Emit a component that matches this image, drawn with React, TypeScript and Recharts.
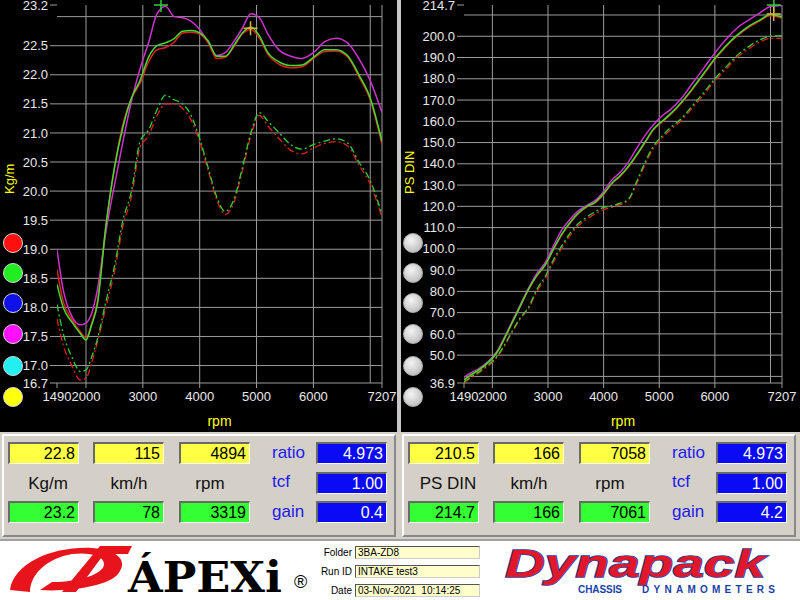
import React from 'react';
import { LineChart, Line, XAxis, YAxis, ReferenceLine, ReferenceDot } from 'recharts';

// ---------- data ----------
const RPM = [1490, 1600, 1750, 1900, 2000, 2100, 2200, 2350, 2500, 2650, 2800, 2950, 3100, 3250, 3400, 3550, 3700, 3850, 4000, 4150, 4300, 4450, 4600, 4750, 4900, 5050, 5200, 5400, 5600, 5800, 6000, 6200, 6400, 6600, 6800, 7000, 7207];

// Torque (Kg/m)
const TQ_MAGENTA = [19.0, 18.3, 17.85, 17.7, 17.73, 17.9, 18.3, 19.3, 20.1, 20.85, 21.55, 22.1, 22.55, 23.05, 23.18, 23.0, 22.98, 22.92, 22.78, 22.55, 22.33, 22.38, 22.57, 22.8, 23.05, 22.98, 22.7, 22.42, 22.32, 22.28, 22.38, 22.57, 22.63, 22.55, 22.28, 21.9, 21.35];
const TQ_GREEN = [18.4, 18.0, 17.75, 17.55, 17.44, 17.7, 18.05, 19.4, 20.4, 21.1, 21.6, 21.9, 22.3, 22.5, 22.55, 22.62, 22.75, 22.76, 22.72, 22.58, 22.32, 22.32, 22.5, 22.72, 22.82, 22.67, 22.38, 22.22, 22.16, 22.17, 22.3, 22.43, 22.43, 22.33, 22.0, 21.6, 20.85];
const TQ_RED = [18.65, 18.1, 17.8, 17.58, 17.48, 17.72, 18.1, 19.4, 20.4, 21.15, 21.6, 21.85, 22.22, 22.43, 22.47, 22.56, 22.72, 22.73, 22.7, 22.55, 22.28, 22.3, 22.48, 22.7, 22.78, 22.63, 22.35, 22.18, 22.12, 22.14, 22.28, 22.4, 22.41, 22.31, 21.97, 21.57, 20.8];
const TQ_GREEN_BASE = [18.05, 17.55, 17.15, 16.9, 16.92, 17.15, 17.45, 18.1, 18.7, 19.5, 20.0, 20.85, 21.05, 21.4, 21.65, 21.57, 21.5, 21.3, 20.9, 20.4, 19.9, 19.65, 19.85, 20.4, 21.0, 21.35, 21.2, 21.0, 20.8, 20.72, 20.8, 20.86, 20.9, 20.83, 20.5, 20.18, 19.6];
const TQ_RED_BASE = [17.8, 17.35, 17.0, 16.75, 16.78, 17.05, 17.4, 18.0, 18.6, 19.4, 19.9, 20.75, 20.95, 21.3, 21.5, 21.5, 21.42, 21.22, 20.85, 20.35, 19.85, 19.6, 19.8, 20.35, 20.95, 21.3, 21.12, 20.9, 20.7, 20.64, 20.74, 20.82, 20.85, 20.78, 20.45, 20.12, 19.55];

// Power (PS DIN)
const PS_MAGENTA = [39.5, 41.5, 43.5, 46.5, 49.0, 52.5, 57.5, 65.5, 73.5, 81.5, 88.5, 93.5, 101.5, 109, 114, 118, 120.5, 122.8, 127, 132.5, 136, 141, 147.5, 153.5, 158.5, 162.5, 165.5, 170.8, 178, 185, 192.2, 198.5, 203.9, 207.5, 210.8, 214, 214.5];
const PS_GREEN = [38.5, 40.5, 43, 46, 48.5, 52, 57, 65, 73, 81, 87.5, 92.5, 100, 107, 112.5, 117, 120, 122, 126, 131, 134.5, 139, 144.5, 150.5, 156.5, 160, 163.5, 169, 175.5, 182.5, 189.5, 195.5, 200.5, 204.5, 207.5, 210.2, 209];
const PS_RED = [38.3, 40.3, 42.8, 45.8, 48.3, 51.8, 56.8, 64.8, 72.8, 80.8, 87.3, 92.3, 99.7, 106.7, 112.2, 116.7, 119.7, 121.7, 125.6, 130.6, 134.1, 138.6, 144.1, 150.1, 156.1, 159.6, 163.1, 168.6, 175.1, 182.1, 189.1, 195.1, 200.1, 204.1, 207.1, 209.8, 208.5];
const PS_GREEN_BASE = [37.5, 39.5, 42, 45, 47, 50, 54, 61, 67.5, 72.5, 81, 87, 95, 101.5, 107.5, 112, 115, 117.5, 119.5, 120.3, 121.5, 123.5, 132, 141, 148.5, 153, 157, 161.3, 167.5, 173.5, 180, 185.5, 191, 195, 198.2, 200, 200.3];
const PS_RED_BASE = [37.0, 39.0, 41.5, 44.5, 46.5, 49.5, 53.5, 60.5, 67, 72, 80, 86, 94, 100.5, 106.5, 111, 114, 116.5, 118.5, 119.5, 120.8, 123, 131, 140, 147.5, 152, 156, 160.5, 166.5, 172.5, 179, 184.5, 190, 194, 197.2, 199, 199];

const X_TICKS = [1490, 2000, 3000, 4000, 5000, 6000, 7207];
const X_GRID = [2000, 3000, 4000, 5000, 6000, 7000, 7207];
const TQ_TICKS = [16.7, 17.0, 17.5, 18.0, 18.5, 19.0, 19.5, 20.0, 20.5, 21.0, 21.5, 22.0, 22.5, 23.2];
const TQ_GRID = [17.0, 17.5, 18.0, 18.5, 19.0, 19.5, 20.0, 20.5, 21.0, 21.5, 22.0, 22.5, 23.0];
const PS_TICKS = [36.9, 50, 60, 70, 80, 90, 100, 110, 120, 130, 140, 150, 160, 170, 180, 190, 200, 214.7];
const PS_GRID = [40, 50, 60, 70, 80, 90, 100, 110, 120, 130, 140, 150, 160, 170, 180, 190, 200, 210];

// cursors: [rpm, value]
const TQ_CURSOR_GREEN = [3319, 23.2];
const TQ_CURSOR_YELLOW = [4894, 22.8];
const PS_CURSOR_GREEN = [7061, 214.7];
const PS_CURSOR_YELLOW = [7058, 210.5];

const LEGEND_COLORS = ['#ff1010', '#20ee20', '#1010e8', '#ff10ff', '#20f0f0', '#ffff10'];

const READ_LEFT = { yellow: ['22.8', '115', '4894'], green: ['23.2', '78', '3319'], labels: ['Kg/m', 'km/h', 'rpm'], blue: ['4.973', '1.00', '0.4'] };
const READ_RIGHT = { yellow: ['210.5', '166', '7058'], green: ['214.7', '166', '7061'], labels: ['PS DIN', 'km/h', 'rpm'], blue: ['4.973', '1.00', '4.2'] };

const TQ_ROWS = RPM.map((r, i) => ({ rpm: r, m: TQ_MAGENTA[i], g: TQ_GREEN[i], r: TQ_RED[i], gb: TQ_GREEN_BASE[i], rb: TQ_RED_BASE[i] }));
const PS_ROWS = RPM.map((r, i) => ({ rpm: r, m: PS_MAGENTA[i], g: PS_GREEN[i], r: PS_RED[i], gb: PS_GREEN_BASE[i], rb: PS_RED_BASE[i] }));

const FONT = '"Liberation Sans", Arial, sans-serif';
const GRID = '#9c9c9c';

const cross = (color: string) => (p: any) => (
  <g>
    <line x1={p.cx - 7} x2={p.cx + 7} y1={p.cy} y2={p.cy} stroke={color} strokeWidth={1.5} />
    <line x1={p.cx} x2={p.cx} y1={p.cy - 7} y2={p.cy + 7} stroke={color} strokeWidth={1.5} />
  </g>
);

function Dyno({ rows, yTicks, yGrid, domain, yLabel, yWidth, width, cursors }: any) {
  return (
    <LineChart width={width} height={432} data={rows} margin={{ top: 5, right: width === 397 ? 15 : 18, bottom: 0, left: 0 }}>
      {X_GRID.map((v) => (
        <ReferenceLine key={'x' + v} x={v} stroke={GRID} strokeWidth={1} />
      ))}
      {yGrid.map((v: number) => (
        <ReferenceLine key={'y' + v} y={v} stroke={GRID} strokeWidth={1} />
      ))}
      <XAxis
        dataKey="rpm"
        type="number"
        domain={[1490, 7207]}
        ticks={X_TICKS}
        interval={0}
        allowDataOverflow
        height={49}
        tickSize={5}
        tickMargin={4}
        stroke={GRID}
        tick={{ fill: '#e8e8e8', fontSize: 13, fontFamily: FONT }}
        label={{ value: 'rpm', position: 'insideBottom', offset: 6, fill: '#ffff00', fontSize: 14, fontFamily: FONT }}
      />
      <YAxis
        type="number"
        domain={domain}
        ticks={yTicks}
        interval={0}
        allowDataOverflow
        width={yWidth}
        axisLine={false}
        tickSize={7}
        tickMargin={2}
        stroke={GRID}
        tickFormatter={(v: number) => v.toFixed(1)}
        tick={{ fill: '#e8e8e8', fontSize: 13, fontFamily: FONT }}
        label={{ value: yLabel, angle: -90, position: 'insideLeft', offset: yWidth === 57 ? 9 : 8, fill: '#ffff00', fontSize: 13, fontFamily: FONT }}
      />
      <Line dataKey="rb" type="monotone" stroke="#e02020" strokeWidth={1.3} strokeDasharray="7 3 2 3" dot={false} isAnimationActive={false} />
      <Line dataKey="gb" type="monotone" stroke="#30d030" strokeWidth={1.3} strokeDasharray="7 3 2 3" dot={false} isAnimationActive={false} />
      <Line dataKey="m" type="monotone" stroke="#cc33cc" strokeWidth={1.5} dot={false} isAnimationActive={false} />
      <Line dataKey="r" type="monotone" stroke="#e02020" strokeWidth={1.5} dot={false} isAnimationActive={false} />
      <Line dataKey="g" type="monotone" stroke="#40dd30" strokeWidth={1.5} dot={false} isAnimationActive={false} />
      <ReferenceDot x={cursors[0][0]} y={cursors[0][1]} shape={cross('#30d040')} ifOverflow="visible" />
      <ReferenceDot x={cursors[1][0]} y={cursors[1][1]} shape={cross('#e0b040')} ifOverflow="visible" />
    </LineChart>
  );
}

const circleStyle = (x: number, y: number, bg: string): React.CSSProperties => ({
  position: 'absolute',
  left: x - 10,
  top: y - 10,
  width: 20,
  height: 20,
  borderRadius: '50%',
  background: bg,
  boxSizing: 'border-box',
  border: '1.5px solid #d8d8d8',
});

const CIRCLE_Y = [243, 273, 303, 334, 366, 397];

function Box({ x, y, bg, color, text }: any) {
  return (
    <div
      style={{
        position: 'absolute', left: x, top: y, width: 71, height: 22, background: bg, boxSizing: 'border-box',
        borderTop: '2px solid #6a6a6a', borderLeft: '2px solid #6a6a6a', borderBottom: '1px solid #fafafa', borderRight: '1px solid #fafafa',
        color, fontFamily: FONT, fontSize: 16, textAlign: 'right', paddingRight: 3, lineHeight: '19px',
      }}
    >
      {text}
    </div>
  );
}

function Readout({ x0, data }: any) {
  const xs = [8, 93, 179];
  const lx = [48, 129, 210];
  return (
    <div style={{ position: 'absolute', left: x0 + 2, top: 434, width: 394, height: 103, boxSizing: 'border-box', borderTop: '2px solid #ffffff', borderLeft: '2px solid #ffffff', borderBottom: '2px solid #888', borderRight: '2px solid #888' }}>
      <div style={{ position: 'absolute', left: -4, top: -4, width: 400, height: 110 }}>
        {xs.map((x, i) => (
          <Box key={'y' + i} x={x} y={10} bg="#ffff44" color="#000" text={data.yellow[i]} />
        ))}
        {xs.map((x, i) => (
          <Box key={'g' + i} x={x} y={69} bg="#33ff33" color="#000" text={data.green[i]} />
        ))}
        {lx.map((x, i) => (
          <div key={'l' + i} style={{ position: 'absolute', left: x - 40, width: 80, top: 42, textAlign: 'center', fontFamily: FONT, fontSize: 17, color: '#111' }}>{data.labels[i]}</div>
        ))}
        {['ratio', 'tcf', 'gain'].map((t, i) => (
          <div key={t} style={{ position: 'absolute', left: 272, top: [11, 40, 70][i], fontFamily: FONT, fontSize: 17, color: '#1a1aee' }}>{t}</div>
        ))}
        {data.blue.map((t: string, i: number) => (
          <Box key={'b' + i} x={316} y={[10, 40, 69][i]} bg="#0a0af5" color="#ffffff" text={t} />
        ))}
      </div>
    </div>
  );
}

function Field({ y, label, value }: any) {
  return (
    <>
      <div style={{ position: 'absolute', left: 300, width: 52, top: y, textAlign: 'right', fontFamily: FONT, fontSize: 10, color: '#000', lineHeight: '12px' }}>{label}</div>
      <div style={{ position: 'absolute', left: 355, top: y - 1, width: 125, height: 13, background: '#ffffcc', boxSizing: 'border-box', borderTop: '1px solid #555', borderLeft: '1px solid #555', borderBottom: '1px solid #ccc', borderRight: '1px solid #ccc', fontFamily: FONT, fontSize: 10, lineHeight: '11px', paddingLeft: 2, whiteSpace: 'pre' }}>{value}</div>
    </>
  );
}

export default function App() {
  return (
    <div style={{ position: 'absolute', left: 0, top: 0, width: 800, height: 600, background: '#ffffff', overflow: 'hidden' }}>
      <div style={{ position: 'absolute', left: 0, top: 0, width: 800, height: 432, background: '#c8c8c8' }} />
      <div style={{ position: 'absolute', left: 0, top: 0, width: 397, height: 432, background: '#000' }}>
        <Dyno rows={TQ_ROWS} yTicks={TQ_TICKS} yGrid={TQ_GRID} domain={[16.7, 23.2]} yLabel="Kg/m" yWidth={57} width={397} cursors={[TQ_CURSOR_GREEN, TQ_CURSOR_YELLOW]} />
        {LEGEND_COLORS.map((c, i) => (
          <div key={c} style={circleStyle(13, CIRCLE_Y[i], c)} />
        ))}
      </div>
      <div style={{ position: 'absolute', left: 401, top: 0, width: 399, height: 432, background: '#000' }}>
        <Dyno rows={PS_ROWS} yTicks={PS_TICKS} yGrid={PS_GRID} domain={[36.9, 214.7]} yLabel="PS DIN" yWidth={63} width={399} cursors={[PS_CURSOR_GREEN, PS_CURSOR_YELLOW]} />
        {CIRCLE_Y.map((y) => (
          <div key={y} style={{ ...circleStyle(12, y, 'radial-gradient(circle at 40% 35%, #f4f4f4, #c4c4c4 70%, #a8a8a8)'), border: '1px solid #b0b0b0' }} />
        ))}
      </div>
      <div style={{ position: 'absolute', left: 0, top: 432, width: 800, height: 108, background: '#d4d0c8' }}>
        <div style={{ position: 'absolute', left: 0, top: -432, width: 800, height: 600 }}>
          <Readout x0={0} data={READ_LEFT} />
          <Readout x0={400} data={READ_RIGHT} />
        </div>
      </div>
      <div style={{ position: 'absolute', left: 0, top: 539, width: 800, height: 2, background: '#a0a0a0' }} />
      <svg style={{ position: 'absolute', left: 0, top: 541 }} width={800} height={59}>
        {/* APEXi swoosh */}
        <g transform="translate(0,-1)">
          <path d="M10 50 C 14 22, 55 6, 92 8 C 120 10, 128 22, 118 34 C 108 46, 70 52, 40 50 L 52 42 C 80 42, 104 34, 104 24 C 104 15, 88 12, 72 14 C 48 18, 30 34, 30 52 Z" fill="#e8141c" />
          <path d="M62 52 L 100 6 L 132 6 L 128 14 L 104 14 L 76 52 Z" fill="#e8141c" />
          <text x={128} y={52} fontFamily='"DejaVu Serif", serif' fontWeight="bold" fontSize={42} textLength={154} lengthAdjust="spacingAndGlyphs" fill="#000">ÁPEXi</text>
          <text x={294} y={48} fontFamily={FONT} fontSize={18} fill="#000">®</text>
          {/* Dynapack */}
          <text x={505} y={37} fontFamily={FONT} fontStyle="italic" fontWeight="bold" fontSize={38} textLength={260} lengthAdjust="spacingAndGlyphs" fill="#e0182a" stroke="#1a3fa8" strokeWidth={1.5} paintOrder="stroke">Dynapack</text>
          <text x={578} y={53} fontFamily={FONT} fontWeight="bold" fontSize={10} textLength={44} lengthAdjust="spacing" fill="#1a3fa8">CHASSIS</text>
          <text x={642} y={53} fontFamily={FONT} fontWeight="bold" fontSize={10} textLength={133} lengthAdjust="spacing" fill="#1a3fa8">DYNAMOMETERS</text>
        </g>
      </svg>
      <Field y={547} label="Folder" value="3BA-ZD8" />
      <Field y={566} label="Run ID" value="INTAKE test3" />
      <Field y={585} label="Date" value="03-Nov-2021  10:14:25" />
    </div>
  );
}
